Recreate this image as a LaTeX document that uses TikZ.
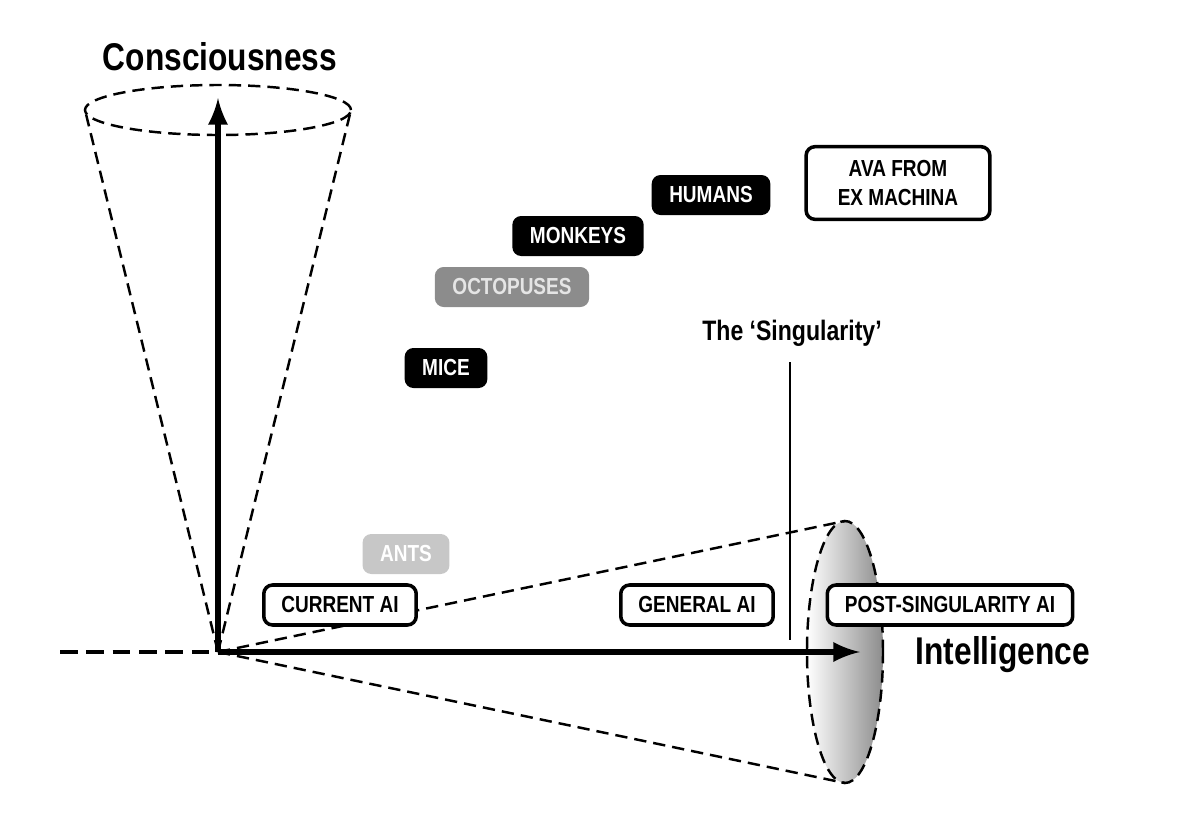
\documentclass[tikz,border=0pt]{standalone}
\usepackage{fontspec}
\setmainfont{Liberation Sans}[FakeStretch=0.82]
\usetikzlibrary{positioning, shapes, calc, arrows}

\tikzset{
	tag/.style={rounded corners=2.5pt, font=\bfseries\fontsize{6.6}{8}\selectfont, minimum height=0.4cm, inner xsep=5pt, align=center},
	dark/.style={tag, fill=black, text=white},
	grey/.style={tag, fill=black!45, text=white!90!black},
	light/.style={tag, fill=black!22, text=white},
	open/.style={tag, draw=black, line width=1pt, fill=white},
	cone/.style={line width=0.7pt, dash pattern=on 3.5pt off 2pt},
	axis/.style={line width=1.6pt, -latex}
}

\begin{document}
\begin{tikzpicture}
	
	\useasboundingbox (0,0) rectangle (12,8.33);
	
	%// origin of both axes
	\coordinate (o) at (2.18,1.81);
	
	%// right cone with shaded end
	\shade[left color=white, right color=black!45] (8.45,1.81) ellipse (0.38 and 1.31);
	\draw[cone] (8.45,1.81) ellipse (0.38 and 1.31);
	\draw[cone] (o) -- (8.45,3.12);
	\draw[cone] (o) -- (8.45,0.50);
	
	%// upper cone
	\draw[cone] (2.18,7.23) ellipse (1.33 and 0.25);
	\draw[cone] (o) -- (0.85,7.23);
	\draw[cone] (o) -- (3.51,7.23);
	
	\draw[line width=1.4pt, dash pattern=on 5pt off 2.5pt] (0.6,1.81) -- (o);
	\draw[axis] (o) -- (2.18,7.35);
	\draw[axis] (o) -- (8.6,1.81);
	
	\node (cons) at (2.2,7.76) {\bfseries\fontsize{11}{13}\selectfont Consciousness};
	\node (intel) at (10.03,1.78) {\bfseries\fontsize{11}{13}\selectfont Intelligence};
	
	%// singularity
	\node (sing) at (7.92,5.0) {\bfseries\fontsize{8}{10}\selectfont The `Singularity'};
	\coordinate (singend) at (7.90,1.93);
	\draw[line width=0.8pt] (7.90,4.71) -- (singend);
	
	%// beings
	\node[dark] (humans) at (7.11,6.38) {HUMANS};
	\node[dark] (monkeys) at (5.78,5.97) {MONKEYS};
	\node[grey] (octo) at (5.12,5.46) {OCTOPUSES};
	\node[dark] (mice) at (4.46,4.65) {MICE};
	\node[light] (ants) at (4.06,2.79) {ANTS};
	\node[open, inner ysep=4pt, inner xsep=9pt] (ava) at (8.98,6.50) {AVA FROM\\EX MACHINA};
	\node[open] (cur) at (3.40,2.28) {CURRENT AI};
	\node[open] (gen) at (6.97,2.28) {GENERAL AI};
	\node[open] (post) at (9.50,2.28) {POST-SINGULARITY AI};
	
\end{tikzpicture}
\end{document}
